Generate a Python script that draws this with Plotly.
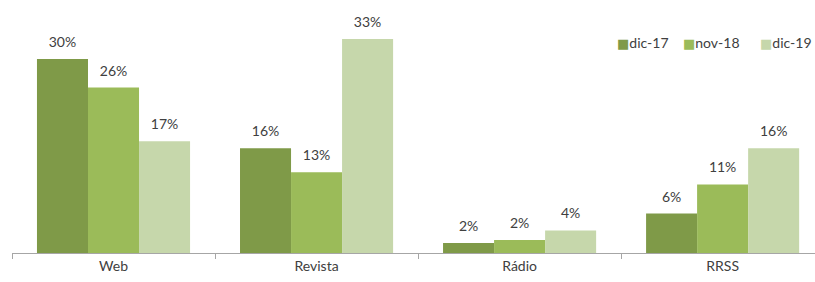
import plotly.graph_objects as go

categories = ["Web", "Revista", "Rádio", "RRSS"]
series_names = ["dic-17", "nov-18", "dic-19"]
dic17 = [30.0, 16.2, 1.55, 6.1]
nov18 = [25.6, 12.5, 2.0, 10.6]
dic19 = [17.3, 33.1, 3.5, 16.2]
labels_dic17 = ["30%", "16%", "2%", "6%"]
labels_nov18 = ["26%", "13%", "2%", "11%"]
labels_dic19 = ["17%", "33%", "4%", "16%"]

colors = ["#7F9A48", "#9BBB59", "#C6D7AB"]
legend_x = [0.7505, 0.8336, 0.9295]
xpos = list(range(len(categories)))
BARGAP = 0.246
bar_w = (1 - BARGAP) / len(series_names)

fig = go.Figure()
all_vals = [dic17, nov18, dic19]
all_labs = [labels_dic17, labels_nov18, labels_dic19]
for k, (name, vals, col) in enumerate(zip(series_names, all_vals, colors)):
    fig.add_trace(go.Bar(
        x=xpos, y=vals, name=name,
        marker=dict(color=col, line=dict(width=0)),
        hoverinfo="skip", showlegend=False,
    ))
# value labels above bars
for k, (vals, labs) in enumerate(zip(all_vals, all_labs)):
    off = (k - (len(series_names) - 1) / 2) * bar_w
    fig.add_trace(go.Scatter(
        x=[p + off for p in xpos], y=vals, text=labs, mode="markers+text",
        textposition="top center", marker=dict(size=12, opacity=0),
        textfont=dict(size=14, color="#404040", family="Lato"),
        showlegend=False, hoverinfo="skip", cliponaxis=False,
    ))

# legend built from annotations
for name, col, lx in zip(series_names, colors, legend_x):
    fig.add_annotation(
        xref="paper", yref="paper", x=lx, y=0.868, xanchor="left", yanchor="middle",
        text=(f'<span style="color:{col};font-family:DejaVu Sans;font-size:13px">■</span>'
              f'{name}'),
        showarrow=False, font=dict(size=14, color="#404040", family="Lato"),
    )

fig.update_layout(
    width=815, height=282,
    barmode="group", bargap=BARGAP, bargroupgap=0,
    plot_bgcolor="white", paper_bgcolor="white",
    margin=dict(l=12, r=0, t=10, b=29, autoexpand=False),
    font=dict(family="Lato", size=14, color="#404040"),
    showlegend=False,
)
fig.update_xaxes(
    range=[-0.5, 3.455], tickvals=xpos, ticktext=categories, ticks="",
    showline=True, linecolor="#A6A6A6", linewidth=1, showgrid=False, zeroline=False,
    tickfont=dict(size=14, color="#404040"),
    minor=dict(tickvals=[-0.5, 0.5, 1.5, 2.5, 3.5], ticks="outside", ticklen=5,
               tickcolor="#A6A6A6", showgrid=False),
)
fig.update_yaxes(range=[0, 37.6], visible=False, showgrid=False, zeroline=False)

fig.write_html(
    "out.html",
    config={"displayModeBar": False},
    post_script="document.body.style.margin='0';"
                "document.documentElement.style.overflow='hidden';"
                "document.body.style.overflow='hidden';",
)
